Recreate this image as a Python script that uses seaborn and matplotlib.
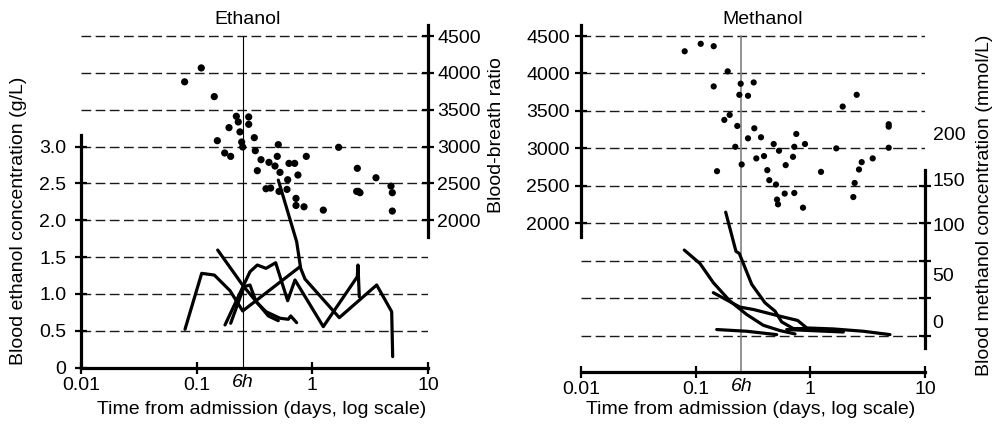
import matplotlib
matplotlib.use("Agg")
import matplotlib.pyplot as plt
from matplotlib.ticker import FixedLocator, NullLocator, FixedFormatter, NullFormatter
import pandas as pd
import seaborn as sns

# ---------------- data ----------------
# Ethanol panel: blood-breath ratio measurements (days from admission, ratio)
ETH_RATIO_DAYS = [0.0787, 0.1096, 0.142, 0.2203, 0.2818, 0.229, 0.2818, 0.1904, 0.2368,
                  0.1509, 0.245, 0.25, 0.315, 0.1747, 0.1968, 0.3213, 0.5077, 0.36, 0.4217,
                  0.4975, 0.4755, 0.3345, 0.5253, 0.6284, 0.7034, 0.887, 0.751, 0.612,
                  0.3975, 0.4364, 0.515, 0.604, 0.7225, 0.7225, 0.8475, 1.244, 1.688,
                  2.449, 2.417, 2.582, 2.5, 3.55, 4.786, 4.915, 4.915]
ETH_RATIO = [3878, 4067, 3678, 3411, 3402, 3334, 3302, 3257, 3199,
             3080, 3062, 2994, 3121, 2913, 2867, 2944, 3026, 2822, 2786,
             2867, 2736, 2673, 2650, 2772, 2772, 2867, 2614, 2550,
             2428, 2437, 2392, 2419, 2297, 2201, 2183, 2138, 2990,
             2705, 2392, 2374, 2392, 2577, 2464, 2374, 2125]

# Ethanol panel: blood ethanol concentration per patient (g/L)
ETH_A_DAYS = [0.508, 0.732, 0.793, 0.864, 1.711, 3.60, 4.853, 4.95]
ETH_A_CONC = [2.545, 1.709, 1.348, 1.203, 0.679, 1.122, 0.760, 0.150]
ETH_B_DAYS = [0.0793, 0.1105, 0.1421, 0.1942, 0.25, 0.782]
ETH_B_CONC = [0.522, 1.280, 1.257, 1.045, 0.770, 1.370]
ETH_C_DAYS = [0.1758, 0.289, 0.3344, 0.3975, 0.482, 0.612, 0.708, 1.244, 2.447, 2.481, 2.546]
ETH_C_CONC = [0.580, 1.302, 1.393, 1.348, 1.424, 0.909, 1.190, 0.557, 1.234, 1.393, 0.964]
ETH_D_DAYS = [0.152, 0.253, 0.4165, 0.5077]
ETH_D_CONC = [1.596, 1.108, 0.702, 0.638]
ETH_E_DAYS = [0.1968, 0.2566, 0.289, 0.326, 0.3975, 0.5253, 0.6197, 0.650, 0.732]
ETH_E_CONC = [0.603, 1.099, 1.122, 0.896, 0.760, 0.671, 0.657, 0.702, 0.611]

# Methanol panel: blood-breath ratio measurements
MET_RATIO_DAYS = [0.0802, 0.1107, 0.1436, 0.1903, 0.1436, 0.247, 0.3206, 0.2404, 0.286,
                  0.198, 0.1778, 0.2306, 0.3246, 0.286, 0.3713, 0.7544, 0.2216, 0.479,
                  0.533, 0.7245, 0.898, 0.338, 0.3945, 0.706, 0.252, 0.1535, 0.4213,
                  0.6096, 0.4386, 0.5018, 0.5976, 0.7245, 0.512, 0.5224, 0.863, 1.239,
                  1.684, 1.915, 2.537, 3.499, 2.805, 2.657, 2.436, 2.37, 4.825, 4.825, 4.825]
MET_RATIO = [4296, 4396, 4364, 4028, 3827, 3863, 3880, 3715, 3702,
             3447, 3380, 3299, 3268, 3134, 3148, 3192, 3021, 3058,
             2968, 3021, 3058, 2866, 2897, 2887, 2785, 2695, 2709,
             2776, 2575, 2517, 2396, 2404, 2316, 2253, 2208, 2686,
             3000, 3558, 3715, 2866, 2816, 2718, 2538, 2350, 3322, 3290, 3008]

# Methanol panel: blood methanol concentration per patient (mmol/L)
MET_A_DAYS = [0.1827, 0.2247, 0.2401, 0.308, 0.4024, 0.4918, 0.5626, 0.7102, 0.9296, 1.938]
MET_A_CONC = [164.8, 112.4, 109.7, 68.5, 43.8, 32.7, 18.3, 9.4, 9.4, 6.7]
MET_B_DAYS = [0.0796, 0.1091, 0.1425, 0.1992, 0.2786, 0.3889, 0.5437, 0.7349]
MET_B_CONC = [114.2, 96.2, 70.7, 46.1, 28.2, 13.8, 6.7, 2.2]
MET_C_DAYS = [0.1425, 0.2435, 0.318, 0.5437, 0.776, 0.9296, 1.586, 2.896, 4.95]
MET_C_CONC = [57.3, 38.0, 34.9, 25.9, 20.2, 10.2, 8.9, 5.8, 1.3]
MET_D_DAYS = [0.1526, 0.2786, 0.5087]
MET_D_CONC = [8.1, 5.8, 1.3]
MET_E_DAYS = [0.6222, 1.938]
MET_E_CONC = [8.1, 4.8]

# axis ticks and labels
X_TICKS = [0.01, 0.1, 1, 10]
X_TICK_LABELS = ["0.01", "0.1", "1", "10"]
SIX_HOURS = 0.25
ETH_TICKS = [0, 0.5, 1.0, 1.5, 2.0, 2.5, 3.0]
ETH_TICK_LABELS = ["0", "0.5", "1.0", "1.5", "2.0", "2.5", "3.0"]
RATIO_TICKS = [2000, 2500, 3000, 3500, 4000, 4500]
RATIO_TICK_LABELS = ["2000", "2500", "3000", "3500", "4000", "4500"]
MET_TICKS = [0, 50, 100, 150, 200]
MET_TICK_LABELS = ["0", "50", "100", "150", "200"]
MET_LABEL_POS = [18.3, 81.0, 147.7, 207.8, 270.1]


def curves(*pairs):
    rows = []
    for pid, (days, conc) in enumerate(pairs):
        for d, c in zip(days, conc):
            rows.append({"patient": pid, "days": d, "conc": c})
    return pd.DataFrame(rows)


eth_lines = curves((ETH_A_DAYS, ETH_A_CONC), (ETH_B_DAYS, ETH_B_CONC),
                   (ETH_C_DAYS, ETH_C_CONC), (ETH_D_DAYS, ETH_D_CONC),
                   (ETH_E_DAYS, ETH_E_CONC))
met_lines = curves((MET_A_DAYS, MET_A_CONC), (MET_B_DAYS, MET_B_CONC),
                   (MET_C_DAYS, MET_C_CONC), (MET_D_DAYS, MET_D_CONC),
                   (MET_E_DAYS, MET_E_CONC))

# ---------------- style ----------------
sns.set_theme(style="white")
plt.rcParams["font.family"] = ["Liberation Sans", "DejaVu Sans"]
plt.rcParams["font.size"] = 14
plt.rcParams["text.color"] = "black"
plt.rcParams["xtick.color"] = "black"
plt.rcParams["ytick.color"] = "black"

W, H = 997, 428
FS = 14
SPINE_W = 2.3
TICK_KW = dict(direction="inout", length=8, width=1.6, labelsize=FS, colors="black")
GRID_KW = dict(color="#1a1a1a", lw=1.0, dashes=(7, 3.2), zorder=0.5)


def frac_box(left, top, right, bottom):
    return [left / W, 1 - bottom / H, (right - left) / W, (bottom - top) / H]


def setup_x(ax):
    ax.set_xscale("log")
    ax.set_xlim(0.01, 10)
    ax.xaxis.set_major_locator(FixedLocator(X_TICKS))
    ax.xaxis.set_major_formatter(FixedFormatter(X_TICK_LABELS))
    ax.xaxis.set_minor_locator(NullLocator())
    ax.tick_params(axis="x", bottom=True, top=False, pad=2.5, **TICK_KW)
    ax.annotate("6h", xy=(SIX_HOURS, 0), xycoords=("data", "axes fraction"),
                xytext=(0, -10.5), textcoords="offset points", ha="center",
                va="center", fontsize=FS, style="italic")


def style_spines(ax, visible, bounds=None):
    for name, sp in ax.spines.items():
        sp.set_visible(name in visible)
        sp.set_linewidth(SPINE_W)
        sp.set_color("black")
    if bounds:
        for name, (lo, hi) in bounds.items():
            ax.spines[name].set_bounds(lo, hi)


fig = plt.figure(figsize=(W / 100, H / 100), dpi=100)

# ---------------- Ethanol ----------------
eth_top = 342.7 / 73.71
axE = fig.add_axes(frac_box(81, 25, 428, 367.7))
axE.set_ylim(0, eth_top)
axR1 = axE.twinx()
axR1.set_ylim(0, eth_top * 1000)

for g in [0.5, 1.0, 1.5, 2.0, 2.5, 3.0, 3.5, 4.0, 4.5]:
    axE.axhline(g, **GRID_KW)
axE.axvline(SIX_HOURS, ymin=0, ymax=4.5 / eth_top, color="black", lw=0.8, zorder=0.6)

sns.lineplot(data=eth_lines, x="days", y="conc", units="patient", estimator=None,
             color="black", lw=2.3, ax=axE, legend=False)
sns.scatterplot(x=ETH_RATIO_DAYS, y=ETH_RATIO, ax=axR1, color="black", s=27,
                edgecolor="none", legend=False)

setup_x(axE)
axE.set_xlabel("")
axE.set_ylabel("")
axE.yaxis.set_major_locator(FixedLocator(ETH_TICKS))
axE.yaxis.set_major_formatter(FixedFormatter(ETH_TICK_LABELS))
axE.tick_params(axis="y", left=True, right=False, pad=6.5, **TICK_KW)
style_spines(axE, {"left", "bottom"}, {"left": (0, 3.157)})

axR1.set_ylabel("")
axR1.yaxis.set_major_locator(FixedLocator(RATIO_TICKS))
axR1.yaxis.set_major_formatter(FixedFormatter(RATIO_TICK_LABELS))
axR1.tick_params(axis="y", right=True, left=False, pad=2.5, **TICK_KW)
style_spines(axR1, {"right"}, {"right": (1777, eth_top * 1000)})

# ---------------- Methanol ----------------
r_lo, r_hi = 10, 4647
axR2 = fig.add_axes(frac_box(581, 25, 925, 372.3))
axR2.set_ylim(r_lo, r_hi)
axM = axR2.twinx()
axM.set_ylim((r_lo - 500) / 10, (r_hi - 500) / 10)

for r in [500, 1000, 1500, 2000, 2500, 3000, 3500, 4000, 4500]:
    axR2.axhline(r, **GRID_KW)
axR2.axvline(SIX_HOURS, ymin=0, ymax=(4500 - r_lo) / (r_hi - r_lo), color="#808080",
             lw=1.2, zorder=0.6)

sns.scatterplot(x=MET_RATIO_DAYS, y=MET_RATIO, ax=axR2, color="black", s=20,
                edgecolor="none", legend=False)
sns.lineplot(data=met_lines, x="days", y="conc", units="patient", estimator=None,
             color="black", lw=2.3, ax=axM, legend=False)

setup_x(axR2)
axR2.set_xlabel("")
axR2.set_ylabel("")
axR2.yaxis.set_major_locator(FixedLocator(RATIO_TICKS))
axR2.yaxis.set_major_formatter(FixedFormatter(RATIO_TICK_LABELS))
axR2.tick_params(axis="y", left=True, right=False, pad=4, **TICK_KW)
style_spines(axR2, {"left", "bottom"}, {"left": (1821, r_hi)})

axM.set_ylabel("")
axM.set_xlabel("")
axM.yaxis.set_major_locator(FixedLocator(MET_TICKS))
axM.yaxis.set_major_formatter(NullFormatter())
axM.yaxis.set_minor_locator(FixedLocator(MET_LABEL_POS))
axM.yaxis.set_minor_formatter(FixedFormatter(MET_TICK_LABELS))
axM.tick_params(axis="y", which="major", right=True, left=False, **TICK_KW)
axM.tick_params(axis="y", which="minor", right=True, left=False, labelright=True,
                length=0, pad=5.5, labelsize=FS, colors="black")
style_spines(axM, {"right"}, {"right": (-16.9, 221)})

# ---------------- titles and axis labels ----------------
def ftext(px, py, s, **kw):
    fig.text(px / W, 1 - py / H, s, ha="center", va="center", fontsize=FS, **kw)

ftext(248, 19, "Ethanol")
ftext(763, 19, "Methanol")
ftext(262, 410, "Time from admission (days, log scale)")
ftext(751, 410, "Time from admission (days, log scale)")
ftext(18.5, 221, "Blood ethanol concentration (g/L)", rotation=90)
ftext(496, 135, "Blood-breath ratio", rotation=90)
ftext(984, 205, "Blood methanol concentration (mmol/L)", rotation=90)

fig.savefig("out.png", dpi=100, facecolor="white")
